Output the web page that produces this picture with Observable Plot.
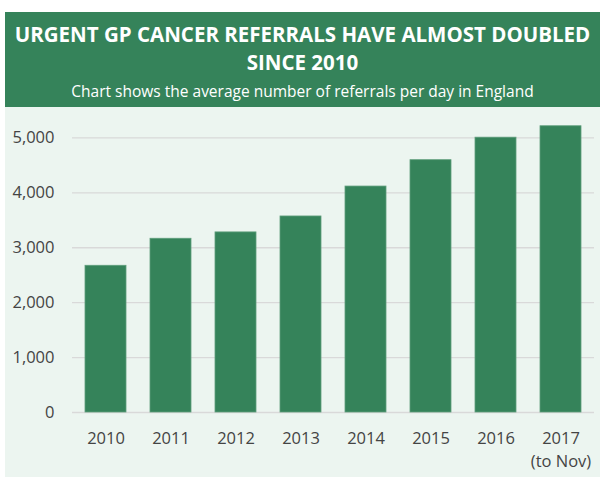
<!DOCTYPE html>
<html>
<head>
<meta charset="utf-8">
<script src="https://cdn.jsdelivr.net/npm/d3@7"></script>
<script src="https://cdn.jsdelivr.net/npm/@observablehq/plot@0.6"></script>
<style>
  html, body { margin: 0; padding: 0; background: #ffffff; }
  body { width: 606px; height: 477px; overflow: hidden; font-family: "Open Sans", sans-serif; }
  #wrap { position: absolute; left: 5px; top: 12px; width: 595px; }
  #header { background: #35835a; color: #ffffff; text-align: center; height: 95px; box-sizing: border-box; padding-top: 8px; }
  #title { font-weight: 700; font-size: 20.5px; line-height: 28px; }
  #subtitle { font-size: 15.5px; line-height: 20px; margin-top: 5px; }
  #chart { background: #ecf5f0; height: 370px; }
  #chart svg { display: block; }
</style>
</head>
<body>
<div id="wrap">
  <div id="header">
    <div id="title">URGENT GP CANCER REFERRALS HAVE ALMOST DOUBLED<br>SINCE 2010</div>
    <div id="subtitle">Chart shows the average number of referrals per day in England</div>
  </div>
  <div id="chart"></div>
</div>
<script>
const years = ["2010", "2011", "2012", "2013", "2014", "2015", "2016", "2017"];
const referrals = [2672, 3164, 3280, 3570, 4115, 4595, 5005, 5213];
const yearLabels = ["2010", "2011", "2012", "2013", "2014", "2015", "2016", "2017\n(to Nov)"];
const yTicks = [0, 1000, 2000, 3000, 4000, 5000];

const data = years.map((y, i) => ({year: y, value: referrals[i]}));
const labelOf = new Map(years.map((y, i) => [y, yearLabels[i]]));

const chart = Plot.plot({
  width: 595,
  height: 370,
  marginLeft: 67,
  marginRight: 6,
  marginTop: 3,
  marginBottom: 65,
  style: {background: "transparent", fontFamily: "Open Sans, sans-serif"},
  x: {domain: years, paddingInner: 0.37, paddingOuter: 0.185},
  y: {domain: [0, 5500]},
  marks: [
    Plot.ruleY(yTicks, {stroke: "#d9d9d9", strokeWidth: 1.3}),
    Plot.barY(data, {x: "year", y: "value", fill: "#35835a", stroke: "#5f9e7c", strokeWidth: 0.8}),
    Plot.axisY({ticks: yTicks, tickSize: 0, tickPadding: 18, tickFormat: d3.format(","), fontSize: 16.5, fill: "#444444", label: null}),
    Plot.axisX({tickSize: 0, tickPadding: 14, tickFormat: d => labelOf.get(d), fontSize: 16.5, fill: "#444444", lineHeight: 1.45, label: null})
  ]
});
document.getElementById("chart").appendChild(chart);
</script>
</body>
</html>
